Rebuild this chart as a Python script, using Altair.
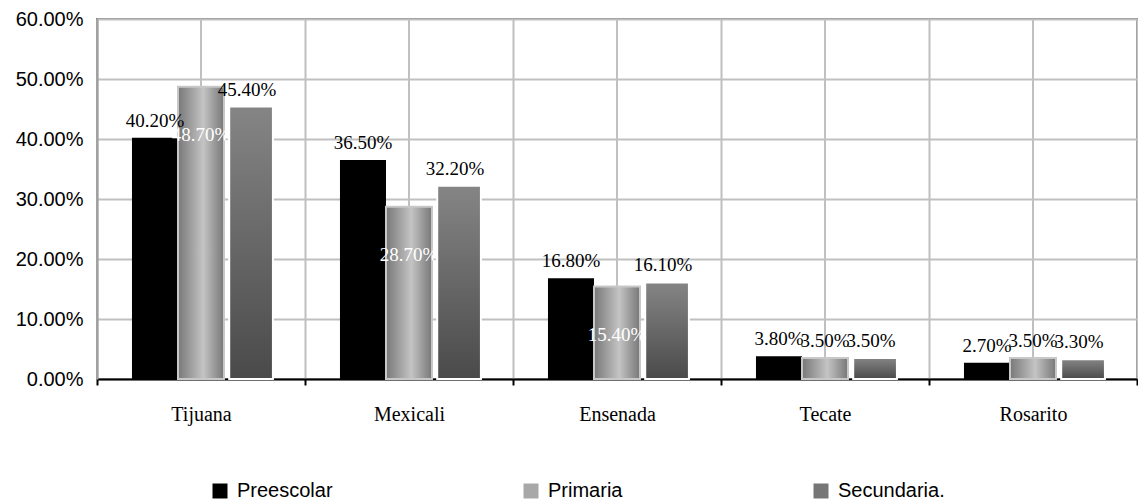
import altair as alt
import pandas as pd

cities = ["Tijuana", "Mexicali", "Ensenada", "Tecate", "Rosarito"]
series = ["Preescolar", "Primaria", "Secundaria."]
preescolar = [0.402, 0.365, 0.168, 0.038, 0.027]
primaria = [0.487, 0.287, 0.154, 0.035, 0.035]
secundaria = [0.454, 0.322, 0.161, 0.035, 0.033]
y_ticks = [0.0, 0.1, 0.2, 0.3, 0.4, 0.5, 0.6]

rows = []
for s, vals in zip(series, [preescolar, primaria, secundaria]):
    for c, v in zip(cities, vals):
        rows.append({"ciudad": c, "nivel": s, "valor": v})
df = pd.DataFrame(rows)
cat_df = pd.DataFrame({"ciudad": cities})

W, H = 1040, 360

x_enc = alt.X(
    "ciudad:N", sort=cities,
    scale=alt.Scale(paddingInner=0, paddingOuter=0),
    axis=alt.Axis(title=None, labelAngle=0, labelAlign="center", tickBand="extent",
                  grid=True, gridColor="#c0c0c0", gridWidth=2, domainColor="black",
                  domainWidth=2, tickColor="black", tickWidth=2, tickSize=6,
                  labelFont="Liberation Serif", labelFontSize=20,
                  labelColor="black", labelPadding=29),
)
xo_enc = alt.XOffset("nivel:N", sort=series,
                     scale=alt.Scale(domain=series, paddingOuter=0.76, paddingInner=0))
y_enc = alt.Y(
    "valor:Q", scale=alt.Scale(domain=[0, 0.6]),
    axis=alt.Axis(title=None, format=".2%", values=y_ticks, grid=True,
                  gridColor="#c0c0c0", gridWidth=2, ticks=False,
                  domainColor="#a0a0a0", domainWidth=2,
                  labelFont="Liberation Sans", labelFontSize=20,
                  labelColor="black", labelPadding=14,
                  minExtent=84, maxExtent=84),
)

base = alt.Chart(df)

mid_rules = alt.Chart(cat_df).mark_rule(color="#c0c0c0", strokeWidth=2).encode(
    x=alt.X("ciudad:N", sort=cities), y=alt.value(0), y2=alt.value(H)
)

pre_bars = base.transform_filter(alt.datum.nivel == "Preescolar").mark_bar().encode(
    x=x_enc, xOffset=xo_enc, y=y_enc,
    color=alt.Color(
        "nivel:N",
        scale=alt.Scale(domain=series, range=["#000000", "#a8a8a8", "#767676"]),
        legend=alt.Legend(title=None, orient="none", legendX=113, legendY=462,
                          direction="horizontal", columns=3, columnPadding=188,
                          symbolType="square", symbolSize=225, symbolStrokeWidth=0,
                          labelFont="Liberation Sans", labelFontSize=20,
                          labelColor="black", labelOffset=7, padding=0),
    ),
)

prim_bars = base.transform_filter(alt.datum.nivel == "Primaria").mark_bar(
    fill=alt.Gradient(gradient="linear", x1=0, x2=1, y1=0, y2=0,
                      stops=[alt.GradientStop(offset=0, color="#787878"),
                             alt.GradientStop(offset=0.55, color="#c4c4c4"),
                             alt.GradientStop(offset=1, color="#777777")]),
    stroke="#c8c8c8", strokeWidth=2,
).encode(x=x_enc, xOffset=xo_enc, y=y_enc)

sec_bars = base.transform_filter(alt.datum.nivel == "Secundaria.").mark_bar(
    fill=alt.Gradient(gradient="linear", x1=0, x2=0, y1=0, y2=1,
                      stops=[alt.GradientStop(offset=0, color="#858585"),
                             alt.GradientStop(offset=1, color="#4a4a4a")]),
    stroke="white", strokeWidth=2, width=alt.RelativeBandSize(0.95),
).encode(x=x_enc, xOffset=xo_enc, y=y_enc)

labels_out = base.transform_filter(
    "!(datum.nivel == 'Primaria' && datum.valor > 0.1)"
).mark_text(font="Liberation Serif", fontSize=19, dy=-11, baseline="alphabetic",
            color="black").encode(
    x=x_enc, xOffset=xo_enc, y=y_enc,
    text=alt.Text("valor:Q", format=".2%"),
)

labels_in = base.transform_filter(
    "datum.nivel == 'Primaria' && datum.valor > 0.1"
).mark_text(font="Liberation Serif", fontSize=19, dy=48, baseline="middle",
            color="white").encode(
    x=x_enc, xOffset=xo_enc, y=y_enc,
    text=alt.Text("valor:Q", format=".2%"),
)

chart = alt.layer(mid_rules, pre_bars, prim_bars, sec_bars, labels_out, labels_in).properties(
    width=W, height=H,
    padding={"left": 5, "top": 1, "right": 0, "bottom": 0},
).configure_view(stroke="#888888", strokeWidth=2)

chart.save("out.html", embed_options={"renderer": "svg", "actions": False})
